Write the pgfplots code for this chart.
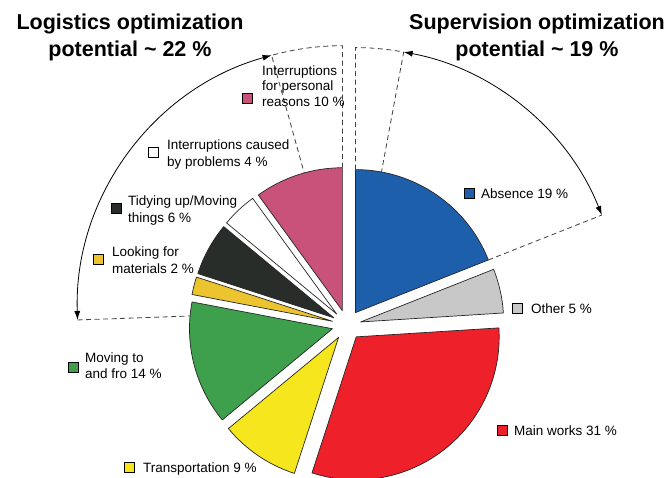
\documentclass[border=0pt]{standalone}
\usepackage{pgfplots}
\pgfplotsset{compat=1.18}
\usepackage{pgfplotstable}
\usepackage{fontspec}
\setmainfont{Liberation Sans}
\usetikzlibrary{arrows.meta}

\definecolor{cAbs}{RGB}{30,95,172}
\definecolor{cOth}{RGB}{200,200,200}
\definecolor{cMain}{RGB}{238,32,42}
\definecolor{cTra}{RGB}{246,230,30}
\definecolor{cMov}{RGB}{62,160,76}
\definecolor{cLoo}{RGB}{236,196,48}
\definecolor{cTid}{RGB}{40,45,42}
\definecolor{cPro}{RGB}{255,255,255}
\definecolor{cPer}{RGB}{200,82,122}

% share of working time (%), explode distance (pt), colour
\pgfplotstableread{
name value explode color
Absence 19 15 cAbs
Other 5 14 cOth
Main 31 15 cMain
Transport 9 15 cTra
Moving 14 15 cMov
Looking 2 15 cLoo
Tidying 6 15 cTid
Problems 4 15 cPro
Personal 10 15 cPer
}\piedata

\newcommand{\lab}[3]{\node[anchor=base west, inner sep=0pt, font=\fontsize{13.5}{15}\selectfont] at (axis cs:#1,#2) {#3};}

\begin{document}
\begin{tikzpicture}
\useasboundingbox (0,0) rectangle (668pt,477pt);
\begin{axis}[
  at={(0,0)}, anchor=south west,
  scale only axis, width=668pt, height=477pt,
  xmin=0, xmax=668, ymin=0, ymax=477, y dir=reverse,
  hide axis, clip=false]

% pie slices from the data table
\gdef\angstart{90}
\pgfplotsforeachungrouped \i in {0,...,8}{%
  \pgfplotstablegetelem{\i}{value}\of\piedata \let\val\pgfplotsretval
  \pgfplotstablegetelem{\i}{explode}\of\piedata \let\ex\pgfplotsretval
  \pgfplotstablegetelem{\i}{color}\of\piedata \let\col\pgfplotsretval
  \pgfmathsetmacro\angend{\angstart-3.6*\val}%
  \pgfmathsetmacro\angmid{(\angstart+\angend)/2}%
  \edef\doslice{\noexpand\filldraw[fill=\col, draw=black!85, line width=0.7pt, line join=round]
    (axis cs:347,325) ++(\angmid:\ex pt) -- ++(\angstart:143pt)
    arc[start angle=\angstart, end angle=\angend, radius=143pt] -- cycle;}%
  \doslice
  \global\let\angstart\angend
}

% Supervision region
\draw[dash pattern=on 5pt off 3.5pt, line width=0.8pt, black!75]
  (axis cs:355.4,312.6) ++(90:143pt) -- ++(90:122pt)
  arc[start angle=90, end angle=79.5, radius=265pt] -- ++(259.5:122pt);
\draw[dash pattern=on 5pt off 3.5pt, line width=0.8pt, black!75]
  (axis cs:355.4,312.6) ++(21.6:143pt) -- ++(21.6:122pt);
\draw[line width=0.8pt, {Latex[length=9pt,width=6pt]}-{Latex[length=9pt,width=6pt]}]
  (axis cs:355.4,312.6) ++(79.5:265pt) arc[start angle=79.5, end angle=21.6, radius=265pt];

% Logistics region
\draw[dash pattern=on 5pt off 3.5pt, line width=0.8pt, black!75]
  (axis cs:342.4,310.7) ++(90:143pt) -- ++(90:122pt)
  arc[start angle=90, end angle=105.5, radius=265pt] -- ++(285.5:122pt);
\draw[dash pattern=on 5pt off 3.5pt, line width=0.8pt, black!75]
  (axis cs:342.4,310.7) ++(182:265pt) -- ++(2:113pt);
\draw[line width=0.8pt, {Latex[length=9pt,width=6pt]}-{Latex[length=9pt,width=6pt]}]
  (axis cs:342.4,310.7) ++(105.5:265pt) arc[start angle=105.5, end angle=182, radius=265pt];

% titles
\node[anchor=base, inner sep=0pt, font=\fontsize{21.5}{24}\selectfont\bfseries] at (axis cs:130,29) {Logistics optimization};
\node[anchor=base, inner sep=0pt, font=\fontsize{21.5}{24}\selectfont\bfseries] at (axis cs:130,56) {potential \textasciitilde{} 22 \%};
\node[anchor=base, inner sep=0pt, font=\fontsize{21.5}{24}\selectfont\bfseries] at (axis cs:537,29) {Supervision optimization};
\node[anchor=base, inner sep=0pt, font=\fontsize{21.5}{24}\selectfont\bfseries] at (axis cs:537,56) {potential \textasciitilde{} 19 \%};

% label squares
\addplot[only marks, mark=square*, mark size=5pt, mark options={fill=cPer, draw=black, line width=0.6pt}] coordinates {(247,98)};
\addplot[only marks, mark=square*, mark size=5pt, mark options={fill=cPro, draw=black, line width=0.6pt}] coordinates {(153,152)};
\addplot[only marks, mark=square*, mark size=5pt, mark options={fill=cTid, draw=black, line width=0.6pt}] coordinates {(116,208)};
\addplot[only marks, mark=square*, mark size=5pt, mark options={fill=cLoo, draw=black, line width=0.6pt}] coordinates {(98,259)};
\addplot[only marks, mark=square*, mark size=5pt, mark options={fill=cMov, draw=black, line width=0.6pt}] coordinates {(73,367)};
\addplot[only marks, mark=square*, mark size=5pt, mark options={fill=cTra, draw=black, line width=0.6pt}] coordinates {(129,467)};
\addplot[only marks, mark=square*, mark size=5pt, mark options={fill=cAbs, draw=black, line width=0.6pt}] coordinates {(469,193)};
\addplot[only marks, mark=square*, mark size=5pt, mark options={fill=cOth, draw=black, line width=0.6pt}] coordinates {(517,308)};
\addplot[only marks, mark=square*, mark size=5pt, mark options={fill=cMain, draw=black, line width=0.6pt}] coordinates {(502,430)};

% label texts
\lab{262}{75}{Interruptions}
\lab{262}{90}{for personal}
\lab{262}{106}{reasons 10 \%}
\lab{167}{149}{Interruptions caused}
\lab{167}{166}{by problems 4 \%}
\lab{128}{205}{Tidying up/Moving}
\lab{128}{222}{things 6 \%}
\lab{112}{256}{Looking for}
\lab{112}{273}{materials 2 \%}
\lab{85}{362}{Moving to}
\lab{85}{378}{and fro 14 \%}
\lab{143}{472}{Transportation 9 \%}
\lab{481}{198}{Absence 19 \%}
\lab{531}{313}{Other 5 \%}
\lab{514}{435}{Main works 31 \%}
\end{axis}
\end{tikzpicture}
\end{document}
